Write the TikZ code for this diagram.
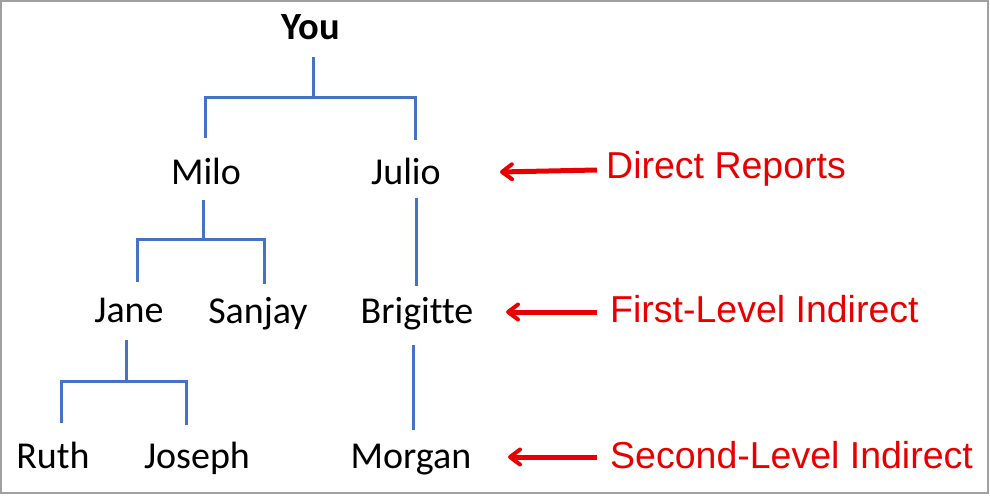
\documentclass[tikz,border=0pt]{standalone}
\usepackage{fontspec}
\setmainfont[Ligatures={NoCommon}]{Carlito}
\newfontfamily\arialfont{Liberation Sans}
\usetikzlibrary{arrows.meta}
\definecolor{treeblue}{HTML}{4472C4}
\definecolor{labelred}{HTML}{E80000}
\definecolor{framegray}{HTML}{A0A0A0}
\tikzset{
  person/.style={anchor=base, inner sep=0pt, font=\fontsize{38}{42}\selectfont},
  boss/.style={person, font=\fontsize{38.5}{42}\selectfont\bfseries},
  levellabel/.style={anchor=base west, inner sep=0pt, text=labelred, font=\arialfont\fontsize{37.5}{42}\selectfont},
  treeline/.style={draw=treeblue, line width=3pt},
  pointer/.style={draw=labelred, line width=5pt, -{Straight Barb[length=10pt, width=15pt, line width=4pt, round]}}
}
\begin{document}
\begin{tikzpicture}[x=1pt, y=-1pt]
\useasboundingbox (0,0) rectangle (990,495);
\draw[framegray, line width=2pt] (1,1) rectangle (988,493);

% people
\node[boss] (you) at (311,40) {You};
\node[person] (milo) at (206,184) {Milo};
\node[person] (julio) at (406,184) {Julio};
\node[person] (jane) at (129,322) {Jane};
\node[person] (sanjay) at (258,323) {Sanjay};
\node[person] (brigitte) at (417,323) {Brigitte};
\node[person] (ruth) at (53,468) {Ruth};
\node[person] (joseph) at (197,468) {Joseph};
\node[person] (morgan) at (411,468) {Morgan};

% connector points
\coordinate (you-out) at (313,57);
\coordinate (you-j) at (313,97);
\coordinate (milo-in) at (205,138);
\coordinate (julio-in) at (415,140);
\coordinate (milo-out) at (203,200);
\coordinate (milo-j) at (203,239);
\coordinate (jane-in) at (137,282);
\coordinate (sanjay-in) at (264,284);
\coordinate (julio-out) at (416,198);
\coordinate (brigitte-in) at (416,286);
\coordinate (jane-out) at (126,340);
\coordinate (jane-j) at (126,381);
\coordinate (ruth-in) at (61,423);
\coordinate (joseph-in) at (186,425);
\coordinate (brigitte-out) at (413,345);
\coordinate (morgan-in) at (413,430);

\draw[treeline] (you-out) -- (you-j);
\draw[treeline] (milo-in) |- (you-j) -| (julio-in);
\draw[treeline] (milo-out) -- (milo-j);
\draw[treeline] (jane-in) |- (milo-j) -| (sanjay-in);
\draw[treeline] (julio-out) -- (brigitte-in);
\draw[treeline] (jane-out) -- (jane-j);
\draw[treeline] (ruth-in) |- (jane-j) -| (joseph-in);
\draw[treeline] (brigitte-out) -- (morgan-in);

% labels
\node[levellabel] (direct) at (606,178) {Direct Reports};
\node[levellabel] (first) at (610,322) {First-Level Indirect};
\node[levellabel] (second) at (610,468) {Second-Level Indirect};

\coordinate (a1s) at (597,170);
\coordinate (a1e) at (500,172);
\coordinate (a2s) at (597,312);
\coordinate (a2e) at (506,312);
\coordinate (a3s) at (597,457);
\coordinate (a3e) at (508,457);
\draw[pointer] (a1s) -- (a1e);
\draw[pointer] (a2s) -- (a2e);
\draw[pointer] (a3s) -- (a3e);
\end{tikzpicture}
\end{document}
